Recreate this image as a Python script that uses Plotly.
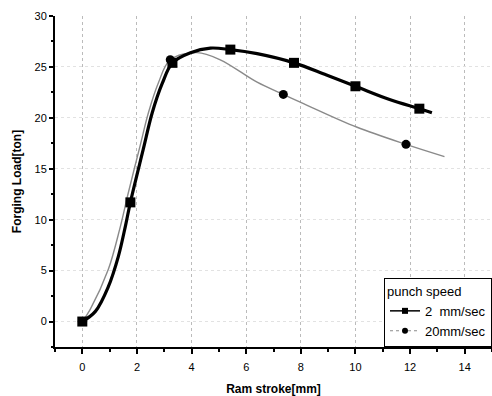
import plotly.graph_objects as go

# Curve of 2 mm/sec
s1_curve_x = [0, 0.48, 0.95, 1.32, 1.58, 1.76, 2.23, 2.56, 2.93, 3.3, 3.96, 4.69, 5.42, 6.4, 7.75, 8.94, 10.0, 11.25, 12.34, 12.8]
s1_curve_y = [0, 1.0, 3.4, 6.4, 9.4, 11.7, 16.9, 20.5, 23.4, 25.4, 26.4, 26.85, 26.7, 26.3, 25.4, 24.2, 23.1, 21.8, 20.9, 20.5]
s1_mark_x = [0, 1.76, 3.3, 5.42, 7.75, 10.0, 12.34]
s1_mark_y = [0, 11.7, 25.4, 26.7, 25.4, 23.1, 20.9]

# Curve of 20 mm/sec
s2_curve_x = [0, 0.29, 0.95, 1.39, 1.68, 2.12, 2.42, 2.78, 3.22, 4.2, 5.05, 6.4, 7.36, 8.1, 10.04, 11.85, 13.26]
s2_curve_y = [0, 1.2, 5.1, 9.3, 12.6, 17.3, 20.5, 23.4, 25.7, 26.4, 25.7, 23.5, 22.3, 21.4, 19.1, 17.4, 16.2]
s2_mark_x = [0, 3.22, 7.36, 11.85]
s2_mark_y = [0, 25.7, 22.3, 17.4]

series_names = ["2\u00a0\u00a0mm/sec", "20mm/sec"]
x_ticks = [0, 2, 4, 6, 8, 10, 12, 14]
y_ticks = [0, 5, 10, 15, 20, 25, 30]

FONT = "Liberation Sans, Arial, sans-serif"
fig = go.Figure()

fig.add_trace(go.Scatter(x=s2_curve_x, y=s2_curve_y, mode="lines", line=dict(color="#8a8a8a", width=1.4, shape="spline", smoothing=1.0),
                         showlegend=False, hoverinfo="skip"))
fig.add_trace(go.Scatter(x=s2_mark_x, y=s2_mark_y, mode="markers", marker=dict(symbol="circle", size=9, color="black"),
                         showlegend=False))
fig.add_trace(go.Scatter(x=s1_curve_x, y=s1_curve_y, mode="lines", line=dict(color="black", width=3.2, shape="spline", smoothing=1.0),
                         showlegend=False, hoverinfo="skip"))
fig.add_trace(go.Scatter(x=s1_mark_x, y=s1_mark_y, mode="markers", marker=dict(symbol="square", size=10, color="black"),
                         showlegend=False))

# legend-only entries
fig.add_trace(go.Scatter(x=[None], y=[None], mode="lines+markers", name=series_names[0],
                         line=dict(color="black", width=1.5), marker=dict(symbol="square", size=6, color="black")))
fig.add_trace(go.Scatter(x=[None], y=[None], mode="lines+markers", name=series_names[1],
                         line=dict(color="#8a8a8a", width=1, dash="dot"), marker=dict(symbol="circle", size=6, color="black")))

fig.update_layout(
    width=492, height=396,
    margin=dict(l=55, r=0, t=16, b=49),
    paper_bgcolor="white", plot_bgcolor="white",
    font=dict(family=FONT, size=11, color="black"),
    legend=dict(x=1, y=0, xanchor="right", yanchor="bottom",
                bordercolor="black", borderwidth=1, bgcolor="white",
                title=dict(text="punch speed", font=dict(size=13, family=FONT)),
                font=dict(size=13, family=FONT), tracegroupgap=0, itemwidth=30),
    showlegend=True,
)
fig.update_xaxes(range=[-1, 15], tickvals=x_ticks, showline=True, linecolor="black", linewidth=2,
                 ticks="outside", ticklen=5, tickwidth=1.5, tickcolor="black", ticklabelstandoff=4,
                 minor=dict(dtick=1, tick0=1, ticks="outside", ticklen=3, tickcolor="black", showgrid=False),
                 showgrid=True, gridcolor="#bbbbbb", gridwidth=1, griddash="dot", zeroline=False,
                 title=dict(text="<b>Ram stroke[mm]</b>", font=dict(size=12, family=FONT), standoff=12),
                 tickfont=dict(size=11, family=FONT))
fig.update_yaxes(range=[-2.5, 30], tickvals=y_ticks, showline=True, linecolor="black", linewidth=2,
                 ticks="outside", ticklen=4, tickwidth=1.5, tickcolor="black",
                 minor=dict(dtick=2.5, tick0=0, ticks="outside", ticklen=2, tickcolor="black", showgrid=False),
                 showgrid=True, gridcolor="#e2e2e2", gridwidth=1, griddash="dot", zeroline=False,
                 title=dict(text="<b>Forging Load[ton]</b>", font=dict(size=12, family=FONT), standoff=10),
                 tickfont=dict(size=11, family=FONT))

fig.write_html("out.html")
